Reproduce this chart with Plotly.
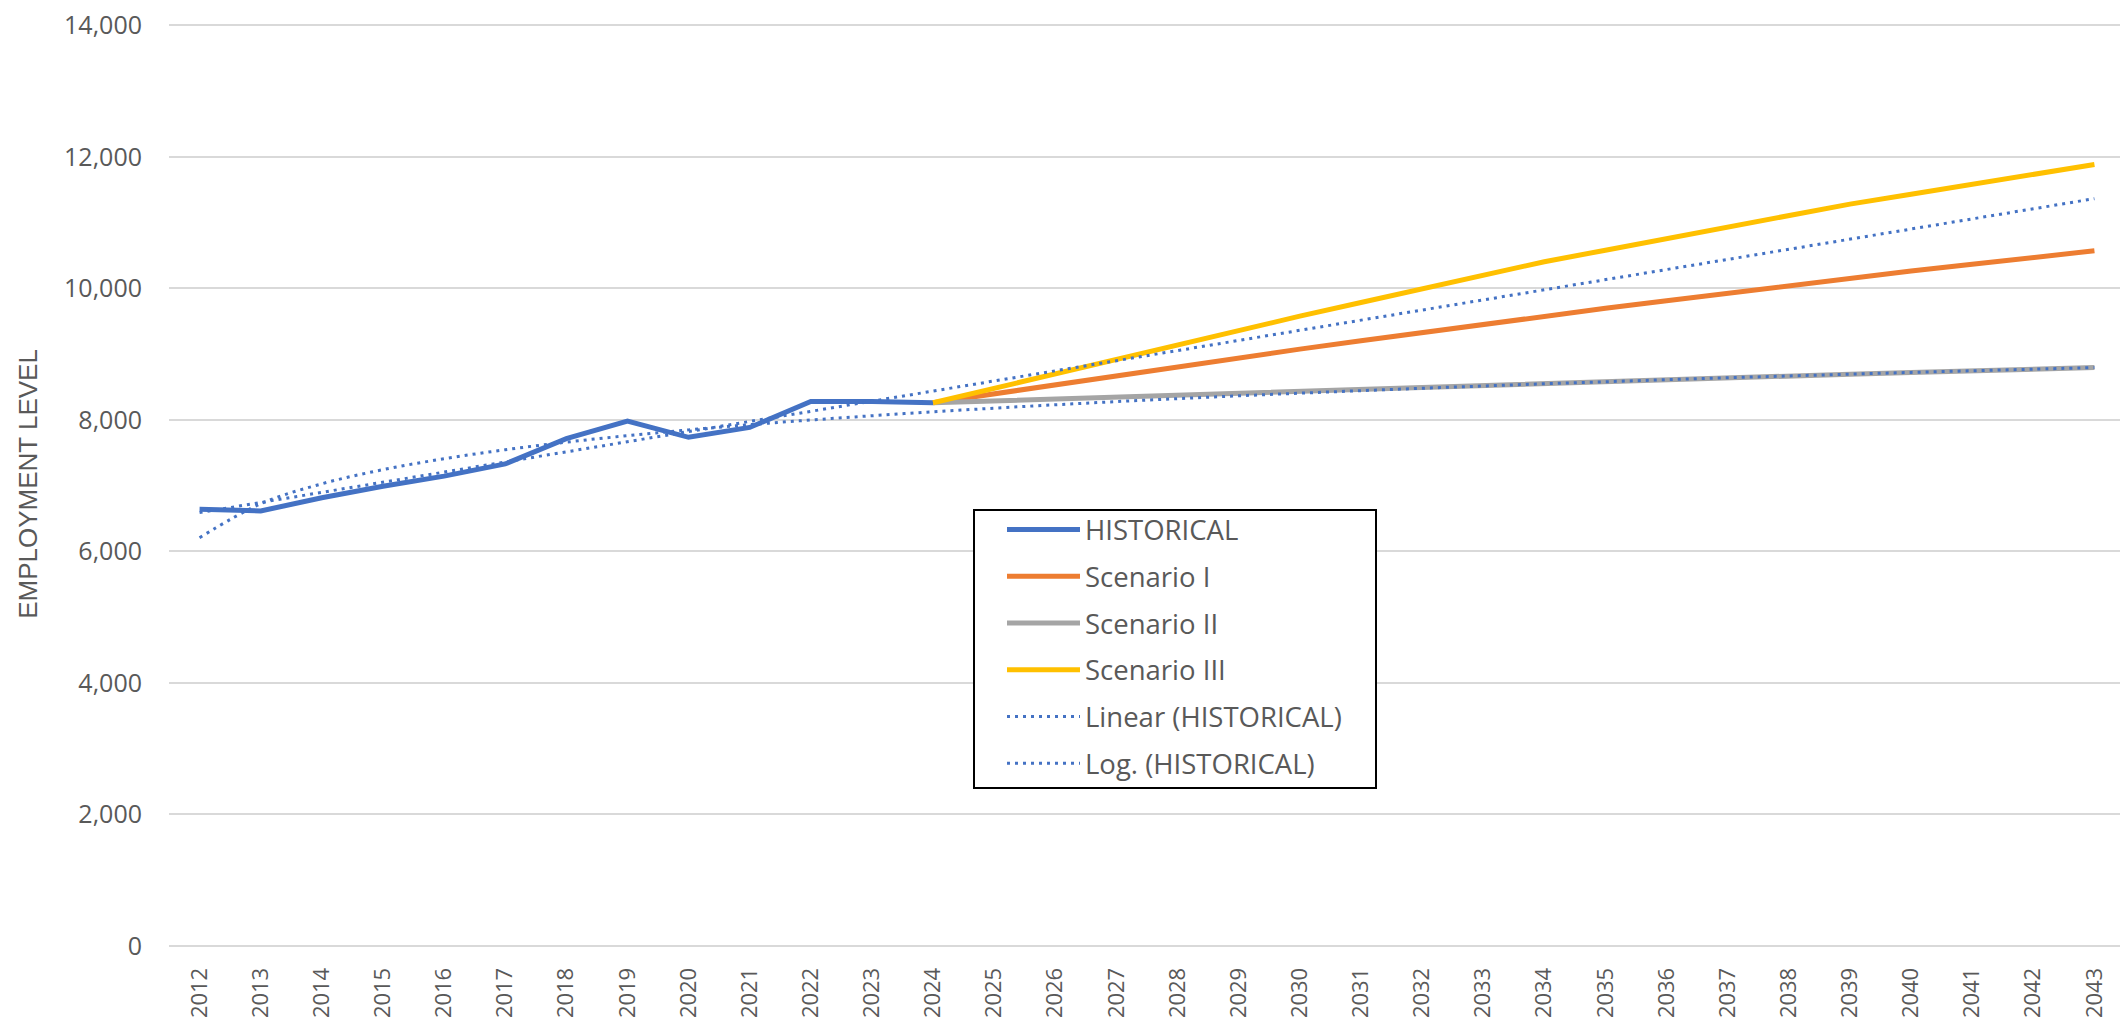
import plotly.graph_objects as go

years = list(range(2012, 2044))

historical = [6640, 6615, 6815, 6990, 7145, 7330, 7715, 7980, 7735, 7885, 8280, 8280, 8260]

scenario_1 = [8260, 8398, 8536, 8674, 8812, 8950, 9076, 9202, 9328, 9454, 9580,
              9696, 9812, 9928, 10044, 10160, 10263, 10366, 10469, 10572]
scenario_2 = [8260, 8290, 8320, 8350, 8380, 8410, 8440, 8470, 8500, 8530, 8560,
              8587, 8614, 8641, 8668, 8695, 8720, 8745, 8770, 8795]
scenario_3 = [8260, 8482, 8704, 8926, 9148, 9370, 9577, 9784, 9991, 10198, 10405,
              10580, 10755, 10930, 11106, 11281, 11431, 11582, 11732, 11883]

linear_trend = [6590, 6744, 6898, 7052, 7206, 7360, 7514, 7668, 7822, 7976, 8130,
                8284, 8438, 8592, 8746, 8900, 9054, 9208, 9362, 9516, 9670, 9824,
                9978, 10132, 10286, 10440, 10594, 10748, 10902, 11056, 11210, 11364]
log_trend = [6208, 6725, 7028, 7243, 7409, 7546, 7661, 7760, 7848, 7927, 7998,
             8063, 8123, 8178, 8230, 8278, 8323, 8366, 8406, 8444, 8481, 8515,
             8549, 8580, 8611, 8640, 8668, 8695, 8722, 8747, 8771, 8795]

y_ticks = [0, 2000, 4000, 6000, 8000, 10000, 12000, 14000]

BLUE = "#4472C4"
GREY_TXT = "#595959"
pad = [None] * (len(historical) - 1)

fig = go.Figure()

series = [
    ("HISTORICAL", historical, BLUE),
    ("Scenario I", pad + scenario_1, "#ED7D31"),
    ("Scenario II", pad + scenario_2, "#A5A5A5"),
    ("Scenario III", pad + scenario_3, "#FFC000"),
]
for name, vals, col in series:
    fig.add_trace(go.Scatter(x=years[:len(vals)], y=vals, name=name, mode="lines",
                             legendgroup=name,
                             line=dict(color=col, width=5)))

fig.add_trace(go.Scatter(x=years, y=linear_trend, name="Linear (HISTORICAL)",
                         mode="lines", legendgroup="lin",
                         line=dict(color=BLUE, width=3, dash="3px,5px")))
fig.add_trace(go.Scatter(x=years, y=log_trend, name="Log. (HISTORICAL)",
                         mode="lines", legendgroup="log", line_shape="spline",
                         line=dict(color=BLUE, width=3, dash="3px,5px")))

# page has an 8px body margin, so the figure is a bit smaller than the window
W, H = 2120, 1017
L, R, T, B = 161, 3, 14, 79
pw, ph = W - L - R, H - T - B

def px_x(v):
    return (v - L) / pw

def px_y(v):
    return (H - B - v) / ph

# legend frame
fig.add_shape(type="rect", xref="paper", yref="paper",
              x0=px_x(966), x1=px_x(1368), y0=px_y(780), y1=px_y(502),
              line=dict(color="black", width=2), fillcolor="white", layer="above")

fig.update_layout(
    width=W, height=H,
    margin=dict(l=L, r=R, t=T, b=B, autoexpand=False),
    plot_bgcolor="white", paper_bgcolor="white",
    showlegend=True,
    legend=dict(x=px_x(994), y=px_y(497), xanchor="left", yanchor="top",
                bgcolor="rgba(0,0,0,0)", borderwidth=0,
                font=dict(family="Open Sans", size=27.5, color=GREY_TXT),
                tracegroupgap=8, itemwidth=73),
    xaxis=dict(range=[2011.5, 2043.5], tickmode="linear", dtick=1, tick0=2012,
               tickangle=-90, showgrid=False, zeroline=False, showline=False,
               ticks="outside", ticklen=12, tickcolor="rgba(0,0,0,0)",
               ticklabeloverflow="allow",
               tickfont=dict(family="Open Sans", size=22, color=GREY_TXT)),
    yaxis=dict(range=[0, 14050], tickvals=y_ticks, tickformat=",d",
               showgrid=True, gridcolor="#D9D9D9", gridwidth=2,
               zeroline=True, zerolinecolor="#D9D9D9", zerolinewidth=2,
               showline=False, ticks="outside", ticklen=21,
               tickcolor="rgba(0,0,0,0)", ticklabeloverflow="allow",
               tickfont=dict(family="Open Sans", size=25, color=GREY_TXT),
               title=dict(text="EMPLOYMENT LEVEL", standoff=18,
                          font=dict(family="Liberation Sans Narrow, Liberation Sans",
                                    size=26, color=GREY_TXT))),
)

fig.write_html("out.html")
